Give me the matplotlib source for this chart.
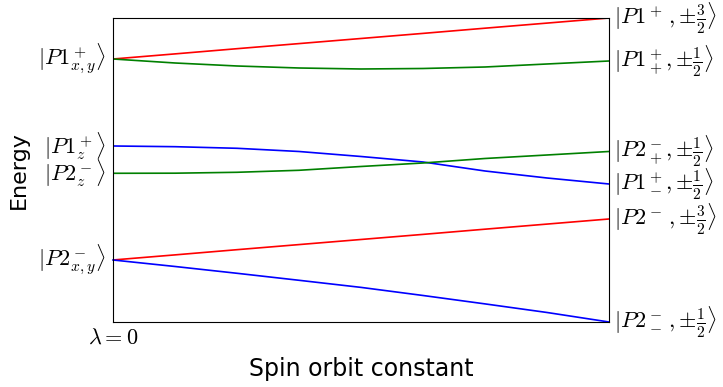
import matplotlib
matplotlib.use("Agg")
import matplotlib.pyplot as plt

plt.rcParams["mathtext.fontset"] = "cm"

# spin orbit constant (normalised)
lam = [0, 0.125, 0.25, 0.375, 0.5, 0.625, 0.75, 0.875, 1.0]

# energy levels
red_top = [2.63, 2.681, 2.733, 2.784, 2.835, 2.886, 2.938, 2.989, 3.04]
green_top = [2.63, 2.59, 2.56, 2.54, 2.53, 2.535, 2.55, 2.58, 2.61]
blue_mid = [1.76, 1.753, 1.737, 1.705, 1.655, 1.60, 1.51, 1.44, 1.38]
green_mid = [1.487, 1.488, 1.497, 1.517, 1.555, 1.59, 1.635, 1.67, 1.705]
red_low = [0.62, 0.671, 0.723, 0.774, 0.825, 0.876, 0.928, 0.979, 1.03]
blue_low = [0.62, 0.555, 0.487, 0.417, 0.346, 0.265, 0.181, 0.095, 0.0]

left_labels = [r"$|P1^+_{x,y}\rangle$", r"$|P1^+_{z}\rangle$",
               r"$|P2^-_{z}\rangle$", r"$|P2^-_{x,y}\rangle$"]
left_y = [2.63, 1.76, 1.487, 0.62]

right_labels = [r"$|P1^+\,,{\pm}\frac{3}{2}\rangle$",
                r"$|P1^+_+,{\pm}\frac{1}{2}\rangle$",
                r"$|P2^-_+,{\pm}\frac{1}{2}\rangle$",
                r"$|P1^+_-,{\pm}\frac{1}{2}\rangle$",
                r"$|P2^-\,,{\pm}\frac{3}{2}\rangle$",
                r"$|P2^-_-\,,{\pm}\frac{1}{2}\rangle$"]
right_y = [3.04, 2.61, 1.705, 1.38, 1.03, 0.0]

fig = plt.figure(figsize=(7.23, 3.87), dpi=100)
ax = fig.add_axes([0.1563, 0.168, 0.686, 0.7855])

lw = 1.2
ax.plot(lam, red_top, color="red", lw=lw)
ax.plot(lam, green_top, color="green", lw=lw)
ax.plot(lam, blue_mid, color="blue", lw=lw)
ax.plot(lam, green_mid, color="green", lw=lw)
ax.plot(lam, red_low, color="red", lw=lw)
ax.plot(lam, blue_low, color="blue", lw=lw, clip_on=False)

ax.set_xlim(0, 1)
ax.set_ylim(0, 3.04)

for lab, y in zip(left_labels, left_y):
    ax.text(-0.015, y, lab, ha="right", va="center", fontsize=16)
for lab, y in zip(right_labels, right_y):
    ax.text(1.01, y, lab, ha="left", va="center", fontsize=16)

ax.set_yticks([])
ax.set_xticks([0])
ax.set_xticklabels([r"$\lambda=0$"], fontsize=16)
ax.tick_params(axis="x", length=0, pad=4)

ax.set_xlabel("Spin orbit constant", fontsize=17)
ax.xaxis.set_label_coords(0.5, -0.115)
ax.set_ylabel("Energy", fontsize=16)
ax.yaxis.set_label_coords(-0.17, 0.5)

fig.savefig("out.png", dpi=100)
